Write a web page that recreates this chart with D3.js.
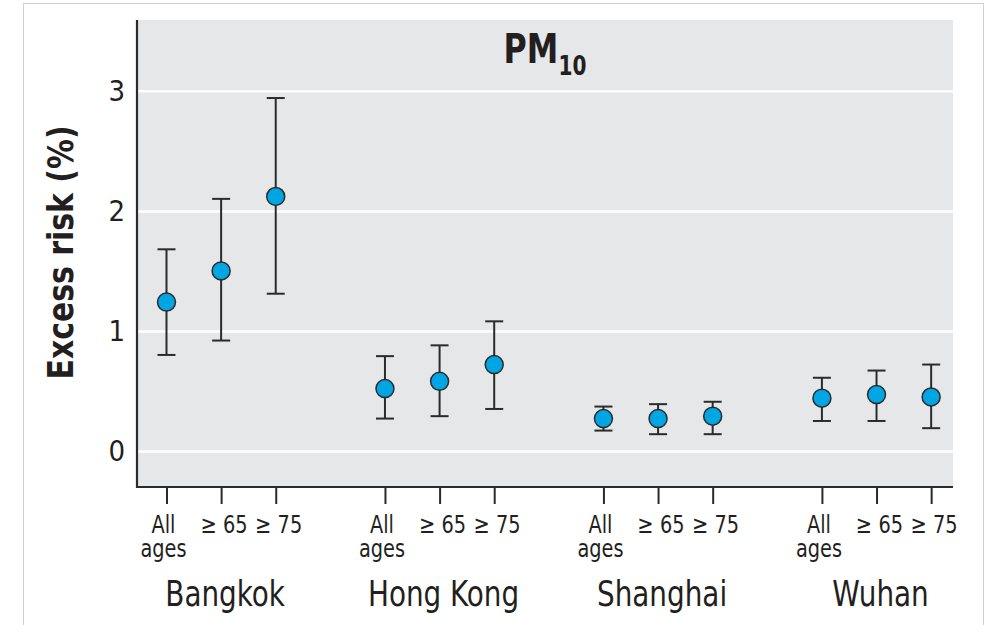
<!DOCTYPE html>
<html>
<head>
<meta charset="utf-8">
<script src="https://cdn.jsdelivr.net/npm/d3@7"></script>
<style>
  body { margin: 0; background: #fff; }
  text { font-family: "Liberation Sans Narrow", "DejaVu Sans Condensed", "Roboto", sans-serif; fill: #231f20; }
</style>
</head>
<body>
<svg id="chart"></svg>
<script>
const cities = ["Bangkok", "Hong Kong", "Shanghai", "Wuhan"];
const ageGroups = [["All", "ages"], ["\u2265 65"], ["\u2265 75"]];
const estimates = [[1.24, 1.50, 2.12], [0.52, 0.58, 0.72], [0.27, 0.27, 0.29], [0.44, 0.47, 0.45]];
const lower = [[0.80, 0.92, 1.31], [0.27, 0.29, 0.35], [0.17, 0.14, 0.14], [0.25, 0.25, 0.19]];
const upper = [[1.68, 2.10, 2.94], [0.79, 0.88, 1.08], [0.37, 0.39, 0.41], [0.61, 0.67, 0.72]];
const yTicks = [0, 1, 2, 3];

const width = 991;
const height = 625;
const plot = { left: 137, right: 953, top: 20, bottom: 487 };
const squeeze = 0.86; // fake a condensed face by squashing the text sideways

// one slot per age group, plus a gap slot between cities
const points = [];
cities.forEach((c, ci) => {
  ageGroups.forEach((a, ai) => {
    points.push({ city: c, age: a, slot: ci * 4 + ai,
      est: estimates[ci][ai], lo: lower[ci][ai], hi: upper[ci][ai] });
  });
});

const svg = d3.select("#chart").attr("width", width).attr("height", height);

svg.append("rect")
  .attr("x", 23.5).attr("y", 3.5)
  .attr("width", 960).attr("height", 660)
  .attr("fill", "none").attr("stroke", "#d2d2d2");

const xScale = d3.scaleLinear().domain([-0.54, 14.4]).range([plot.left, plot.right]);
const yScale = d3.scaleLinear().domain([-0.3, 3.59]).range([plot.bottom, plot.top]);

svg.append("rect")
  .attr("x", plot.left).attr("y", plot.top)
  .attr("width", plot.right - plot.left).attr("height", plot.bottom - plot.top)
  .attr("fill", "#e6e7e8");

// gridlines
svg.append("g")
  .attr("transform", `translate(${plot.left}, 0)`)
  .call(d3.axisLeft(yScale).tickValues(yTicks).tickSize(-(plot.right - plot.left)).tickFormat(""))
  .call((g) => g.select(".domain").remove())
  .call((g) => g.selectAll("line").attr("stroke", "#fff").attr("stroke-width", 2.5));

// y axis
const yAxis = svg.append("g")
  .attr("transform", `translate(${plot.left}, 0)`)
  .call(d3.axisLeft(yScale).tickValues(yTicks).tickSize(0).tickPadding(12).tickFormat(d3.format("d")));
yAxis.select(".domain").remove();
yAxis.selectAll("text").attr("font-size", 29).attr("fill", "#231f20")
  .attr("font-family", "Liberation Sans Narrow, DejaVu Sans Condensed, sans-serif");

// x axis ticks
const xAxis = svg.append("g")
  .attr("transform", `translate(0, ${plot.bottom})`)
  .call(d3.axisBottom(xScale).tickValues(points.map((d) => d.slot)).tickSize(17).tickFormat(""));
xAxis.select(".domain").remove();
xAxis.selectAll("line").attr("stroke", "#2b2b2b").attr("stroke-width", 2);

// spines
svg.append("path")
  .attr("d", `M${plot.left},${plot.top}V${plot.bottom}H${plot.right}`)
  .attr("fill", "none").attr("stroke", "#2b2b2b").attr("stroke-width", 2.2);

// age labels, one text per line
const ageLines = [];
points.forEach((d) => d.age.forEach((t, i) => ageLines.push({ slot: d.slot, multi: d.age.length > 1, line: i, text: t })));
svg.append("g").selectAll("text")
  .data(ageLines).enter().append("text")
  .attr("transform", (d) => `translate(${xScale(d.slot) + (d.multi ? -3 : 3)}, ${533 + d.line * 24}) scale(${squeeze}, 1)`)
  .attr("text-anchor", "middle")
  .attr("font-size", 25)
  .text((d) => d.text);

// city labels
svg.append("g").selectAll("text")
  .data(cities).enter().append("text")
  .attr("transform", (d, i) => `translate(${xScale(i * 4 + 1) + 4}, 606) scale(${squeeze}, 1)`)
  .attr("text-anchor", "middle")
  .attr("font-size", 36)
  .attr("fill", "#333")
  .text((d) => d);

// error bars
const bars = svg.append("g").selectAll("g")
  .data(points).enter().append("g")
  .attr("stroke", "#2b2b2b").attr("stroke-width", 2);
bars.append("line")
  .attr("x1", (d) => xScale(d.slot)).attr("x2", (d) => xScale(d.slot))
  .attr("y1", (d) => yScale(d.lo)).attr("y2", (d) => yScale(d.hi));
bars.append("line")
  .attr("x1", (d) => xScale(d.slot) - 9).attr("x2", (d) => xScale(d.slot) + 9)
  .attr("y1", (d) => yScale(d.hi)).attr("y2", (d) => yScale(d.hi));
bars.append("line")
  .attr("x1", (d) => xScale(d.slot) - 9).attr("x2", (d) => xScale(d.slot) + 9)
  .attr("y1", (d) => yScale(d.lo)).attr("y2", (d) => yScale(d.lo));

svg.append("g").selectAll("circle")
  .data(points).enter().append("circle")
  .attr("cx", (d) => xScale(d.slot))
  .attr("cy", (d) => yScale(d.est))
  .attr("r", 9)
  .attr("fill", "#00a5e3")
  .attr("stroke", "#2b2b2b")
  .attr("stroke-width", 1.5);

// title
const title = svg.append("text")
  .attr("transform", `translate(${(plot.left + plot.right) / 2}, 63) scale(${squeeze}, 1)`)
  .attr("text-anchor", "middle")
  .attr("font-weight", "bold")
  .attr("font-size", 41);
title.append("tspan").text("PM");
title.append("tspan").attr("font-size", 26).attr("dy", 12).text("10");

// y axis title
svg.append("text")
  .attr("transform", `translate(73, ${(plot.top + plot.bottom) / 2 - 1}) rotate(-90) scale(0.95, 1)`)
  .attr("text-anchor", "middle")
  .attr("font-weight", "bold")
  .attr("font-size", 35)
  .text("Excess risk (%)");
</script>
</body>
</html>
